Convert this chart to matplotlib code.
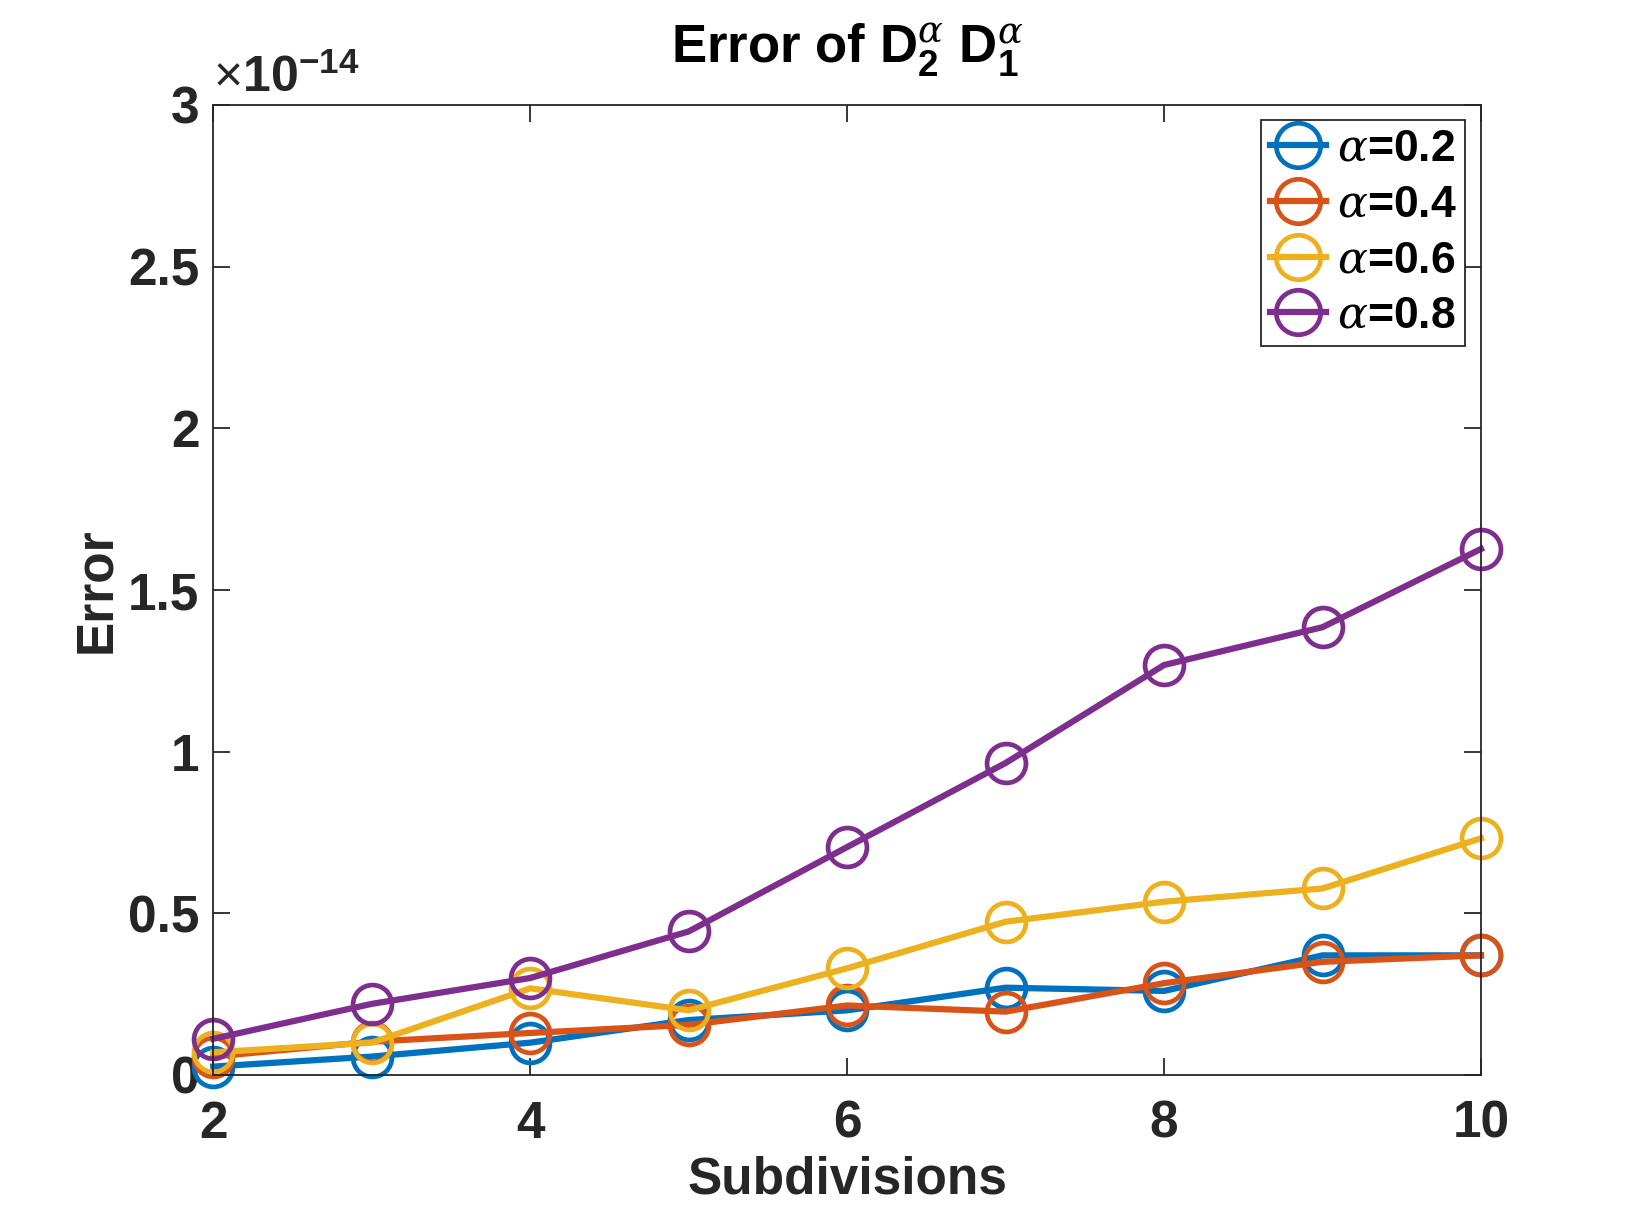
import numpy as np
import matplotlib
matplotlib.use("Agg")
import matplotlib.pyplot as plt
from matplotlib.ticker import FuncFormatter, MultipleLocator

plt.rcParams['font.family'] = ['Liberation Sans', 'DejaVu Sans']
plt.rcParams['mathtext.fontset'] = 'custom'
plt.rcParams['mathtext.it'] = 'DejaVu Serif:italic'
plt.rcParams['mathtext.rm'] = 'Liberation Sans'
plt.rcParams['mathtext.bf'] = 'Liberation Sans:bold'

# data (values in units of 1e-14)
subdivisions = [2, 3, 4, 5, 6, 7, 8, 9, 10]
err_a02 = [0.026, 0.057, 0.100, 0.170, 0.200, 0.270, 0.260, 0.370, 0.370]
err_a04 = [0.057, 0.103, 0.130, 0.155, 0.215, 0.196, 0.284, 0.350, 0.370]
err_a06 = [0.070, 0.100, 0.268, 0.200, 0.330, 0.474, 0.536, 0.577, 0.732]
err_a08 = [0.112, 0.220, 0.300, 0.444, 0.705, 0.965, 1.268, 1.385, 1.627]
labels = [r'$\alpha$=0.2', r'$\alpha$=0.4', r'$\alpha$=0.6', r'$\alpha$=0.8']
colors = ['#0072BD', '#D95319', '#EDB120', '#7E2F8E']
scale = 1e-14

fig = plt.figure(figsize=(16.36, 12.08), dpi=100)
ax = fig.add_axes([213.3 / 1636, 133 / 1208, (1481 - 213.3) / 1636, (1075 - 105) / 1208])

for ys, lab, c in zip([err_a02, err_a04, err_a06, err_a08], labels, colors):
    ax.plot(subdivisions, np.array(ys) * scale, '-o', color=c, lw=4.5,
            marker='o', markersize=28, markerfacecolor='none',
            markeredgewidth=3.4, label=lab, clip_on=False)

ax.set_xlim(2, 10)
ax.set_ylim(0, 3e-14)
ax.xaxis.set_major_locator(MultipleLocator(2))
ax.yaxis.set_major_locator(MultipleLocator(0.5e-14))
ax.yaxis.set_major_formatter(FuncFormatter(lambda v, p: '%g' % round(v / scale, 6)))
ax.yaxis.get_offset_text().set_visible(False)
ax.xaxis.get_offset_text().set_visible(False)

dark = '#262626'
for s in ax.spines.values():
    s.set_color(dark)
    s.set_linewidth(1.3)
ax.tick_params(direction='in', length=12, width=1.3, colors=dark,
               top=True, right=True, labelsize=37)
ax.tick_params(axis='x', pad=18)
ax.tick_params(axis='y', pad=10)
for t in ax.get_xticklabels() + ax.get_yticklabels():
    t.set_fontweight('bold')

# exponent label like MATLAB
ax.text(0.0, 1.003, r'$\times$10$^{\mathbf{-14}}$', transform=ax.transAxes,
        fontsize=36, fontweight='bold', color=dark, ha='left', va='bottom')

ax.set_xlabel('Subdivisions', fontsize=37, fontweight='bold', color=dark, labelpad=5)
ax.set_ylabel('Error', fontsize=37, fontweight='bold', color=dark, labelpad=5)
ax.set_title(r'Error of D$_{\mathbf{2}}^{\alpha}$ D$_{\mathbf{1}}^{\alpha}$',
             fontsize=38, fontweight='bold', pad=30)

leg = ax.legend(loc='upper right', bbox_to_anchor=(1465.3 / 1636, (1208 - 120) / 1208),
                bbox_transform=fig.transFigure, prop={'weight': 'bold', 'size': 32},
                fancybox=False, framealpha=1, borderpad=0.2, labelspacing=0.33,
                handlelength=1.25, handletextpad=0.25, borderaxespad=0)
leg.get_frame().set_edgecolor(dark)
leg.get_frame().set_linewidth(1.3)
for h in leg.get_lines():
    h.set_markersize(32)

fig.savefig('out.png', dpi=100)
